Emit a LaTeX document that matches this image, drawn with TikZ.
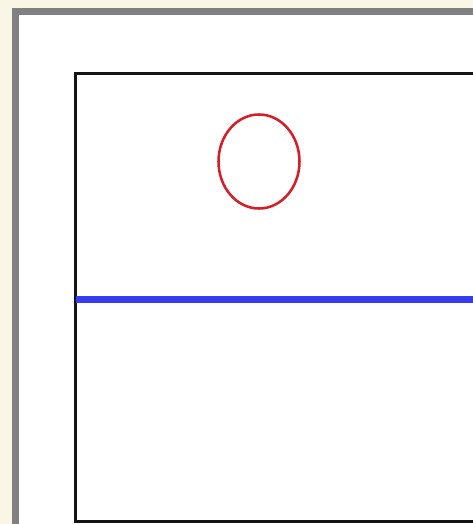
\documentclass[tikz,border=0pt]{standalone}
\usepackage{tikz}

\tikzset{every picture/.style={line width=0.75pt}}

\begin{document}
\begin{tikzpicture}[x=0.75pt,y=0.75pt,yscale=-1,xscale=1]
\useasboundingbox (0,0) rectangle (473,524);
\clip (0,0) rectangle (473,524);

%Shape: Rectangle [background]
\fill [color={rgb, 255:red, 249; green, 246; blue, 230 }] (0,0) rectangle (473,524) ;
%Shape: Rectangle [outer frame]
\draw [color={rgb, 255:red, 128; green, 128; blue, 128 }, fill={rgb, 255:red, 255; green, 255; blue, 255 }, line width=5.25] (15.5,12) rectangle (500,560) ;
%Shape: Rectangle [plot box]
\draw [color={rgb, 255:red, 20; green, 20; blue, 20 }, line width=2.25] (75,74) rectangle (500,521) ;

%Shape: Ellipse [marker]
\draw [color={rgb, 255:red, 214; green, 30; blue, 40 }, line width=1.9] (259,161.5) ellipse (40.5 and 47) ;

%Straight Lines [blue level]
\draw [color={rgb, 255:red, 55; green, 60; blue, 240 }, line width=5.25] (76,299) -- (473,299) ;

\end{tikzpicture}
\end{document}
